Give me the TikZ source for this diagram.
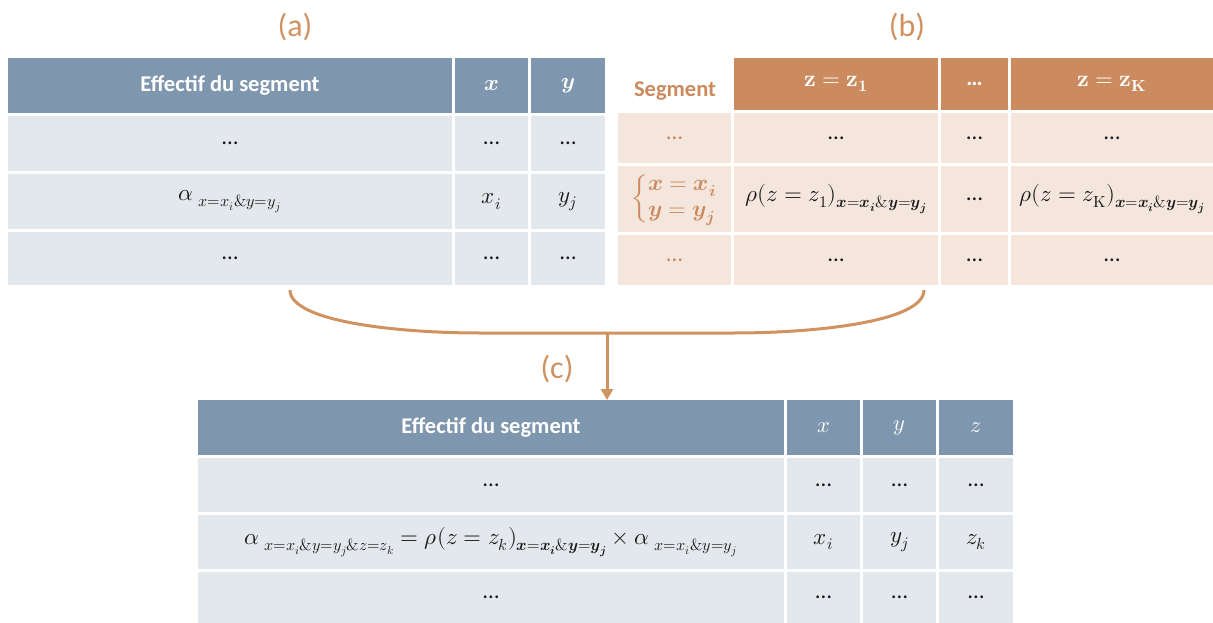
\documentclass[tikz,border=0pt]{standalone}
\usepackage{amsmath}
\usepackage{fontspec}
\usepackage{unicode-math}
\setmainfont{Carlito}
\setmathfont{Latin Modern Math}
\usetikzlibrary{arrows.meta}
\definecolor{hdrblue}{HTML}{7F97AE}
\definecolor{rowblue}{HTML}{E3E8ED}
\definecolor{hdrorange}{HTML}{CC8B5E}
\definecolor{roworange}{HTML}{F4E6DD}
\definecolor{lblorange}{HTML}{D0925F}
\definecolor{txtdark}{HTML}{1A1A1A}
\newcommand\mkcell[7]{\node[#6,minimum width={(#4-#2)*1pt},minimum height={(#5-#3)*1pt}] (#1) at ({(#2+#4)/2},{(#3+#5)/2}) {#7};}
\tikzset{
  cellbase/.style={inner sep=0pt, outer sep=0pt, text=txtdark, font=\fontsize{23}{27}\selectfont},
  hb/.style={cellbase, fill=hdrblue, text=white, font=\fontsize{22.5}{26}\selectfont\bfseries},
  rb/.style={cellbase, fill=rowblue},
  ho/.style={cellbase, fill=hdrorange, text=white, font=\fontsize{23}{27}\selectfont\bfseries},
  ro/.style={cellbase, fill=roworange},
  lbl/.style={text=lblorange, font=\fontsize{32}{36}\selectfont, inner sep=0pt},
  link/.style={draw=lblorange, line width=3pt},
}
\begin{document}
\begin{tikzpicture}[x=1pt,y=-1pt]
\useasboundingbox (0,0) rectangle (1213,623);
% labels
\node[lbl] (la) at (295,27) {(a)};
\node[lbl] (lb) at (907,27) {(b)};
\node[lbl] (lc) at (557,369) {(c)};
% table (a)
\mkcell{ah1}{8}{58}{452}{113}{hb}{Effectif du segment}
\mkcell{ah2}{455}{58}{528}{113}{hb}{$\symbfit{x}$}
\mkcell{ah3}{531}{58}{605}{113}{hb}{$\symbfit{y}$}
\mkcell{a11}{8}{116}{452}{171}{rb}{…}
\mkcell{a12}{455}{116}{528}{171}{rb}{…}
\mkcell{a13}{531}{116}{605}{171}{rb}{…}
\mkcell{a21}{8}{174}{452}{229}{rb}{$\alpha\ _{x=x_i\&y=y_j}$}
\mkcell{a22}{455}{174}{528}{229}{rb}{$x_i$}
\mkcell{a23}{531}{174}{605}{229}{rb}{$y_j$}
\mkcell{a31}{8}{232}{452}{285}{rb}{…}
\mkcell{a32}{455}{232}{528}{285}{rb}{…}
\mkcell{a33}{531}{232}{605}{285}{rb}{…}
% table (b)
\node[cellbase, text=hdrorange, font=\fontsize{22.5}{26}\selectfont\bfseries] (bseg) at (675,91) {Segment};
\mkcell{bh2}{734}{58}{938}{110}{ho}{$\symbf{z=z_1}$}
\mkcell{bh3}{941}{58}{1008}{110}{ho}{…}
\mkcell{bh4}{1011}{58}{1213}{110}{ho}{$\symbf{z=z_K}$}
\mkcell{b11}{618}{113}{731}{163}{ro,text=hdrorange}{…}
\mkcell{b12}{734}{113}{938}{163}{ro}{…}
\mkcell{b13}{941}{113}{1008}{163}{ro}{…}
\mkcell{b14}{1011}{113}{1213}{163}{ro}{…}
\mkcell{b21}{618}{166}{731}{232}{ro,text=hdrorange}{$\renewcommand\arraystretch{0.95}\left\{\begin{array}{@{}l@{}}\symbfit{x=x_i}\\ \symbfit{y=y_j}\end{array}\right.$}
\mkcell{b22}{734}{166}{938}{232}{ro}{$\rho(z=z_1)_{\symbfit{x=x_i\&y=y_j}}$}
\mkcell{b23}{941}{166}{1008}{232}{ro}{…}
\mkcell{b24}{1011}{166}{1213}{232}{ro}{$\rho(z=z_{\symup{K}})_{\symbfit{x=x_i\&y=y_j}}$}
\mkcell{b31}{618}{235}{731}{285}{ro,text=hdrorange}{…}
\mkcell{b32}{734}{235}{938}{285}{ro}{…}
\mkcell{b33}{941}{235}{1008}{285}{ro}{…}
\mkcell{b34}{1011}{235}{1213}{285}{ro}{…}
% table (c)
\mkcell{ch1}{198}{400}{784}{455}{hb}{Effectif du segment}
\mkcell{ch2}{787}{400}{860}{455}{hb}{$x$}
\mkcell{ch3}{863}{400}{936}{455}{hb}{$y$}
\mkcell{ch4}{939}{400}{1013}{455}{hb}{$z$}
\mkcell{c11}{198}{458}{784}{512}{rb}{…}
\mkcell{c12}{787}{458}{860}{512}{rb}{…}
\mkcell{c13}{863}{458}{936}{512}{rb}{…}
\mkcell{c14}{939}{458}{1013}{512}{rb}{…}
\mkcell{c21}{198}{515}{784}{569}{rb}{$\alpha\ _{x=x_i\&y=y_j\&z=z_k} = \rho(z=z_k)_{\symbfit{x=x_i\&y=y_j}}\times\alpha\ _{x=x_i\&y=y_j}$}
\mkcell{c22}{787}{515}{860}{569}{rb}{$x_i$}
\mkcell{c23}{863}{515}{936}{569}{rb}{$y_j$}
\mkcell{c24}{939}{515}{1013}{569}{rb}{$z_k$}
\mkcell{c31}{198}{572}{784}{623}{rb}{…}
\mkcell{c32}{787}{572}{860}{623}{rb}{…}
\mkcell{c33}{863}{572}{936}{623}{rb}{…}
\mkcell{c34}{939}{572}{1013}{623}{rb}{…}
% connector
\coordinate (lend) at (290,290);
\coordinate (rend) at (924,290);
\coordinate (mid) at (607,333);
\draw[link] (lend) .. controls (290,322) and (400,333) .. (480,333) -- (734,333) .. controls (814,333) and (924,322) .. (rend);
\draw[link, -{Triangle[length=11pt,width=12pt]}] (mid) -- (mid |- ch1.north);
\end{tikzpicture}
\end{document}
